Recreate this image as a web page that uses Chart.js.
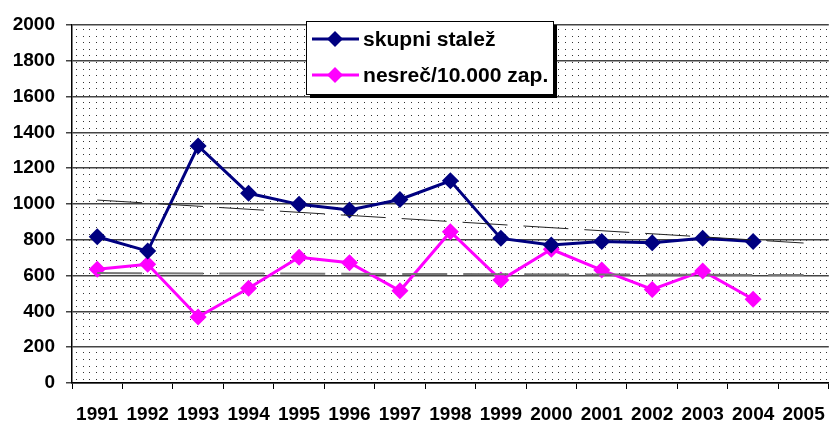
<!DOCTYPE html>
<html>
<head>
<meta charset="utf-8">
<script src="https://cdn.jsdelivr.net/npm/chart.js@4"></script>
<style>
  html, body { margin: 0; padding: 0; background: #fff; }
  #wrap { width: 839px; height: 421px; }
</style>
</head>
<body>
<div id="wrap"><canvas id="chart"></canvas></div>
<script>
// === Data ===
const years = ["1991", "1992", "1993", "1994", "1995", "1996", "1997", "1998",
               "1999", "2000", "2001", "2002", "2003", "2004", "2005"];
const skupniStalez = [817, 737, 1324, 1060, 998, 967, 1025, 1130, 808, 771, 790, 784, 808, 790, null];
const nesrecNa10000 = [635, 663, 369, 529, 702, 672, 515, 845, 575, 747, 631, 523, 626, 468, null];
// trend lines, read at the first and last category
const stalezTrend = [1022, null, null, null, null, null, null, null, null, null, null, null, null, null, 782];
const nesrecTrend = [614, null, null, null, null, null, null, null, null, null, null, null, null, null, 603];

// === Styling ===
const chartProps = {
    navy: "#000080",
    magenta: "#ff00ff",
    gridColor: "#444",
    axisColor: "#000",
    dotColor: "#333",
    font: "'Liberation Sans', Arial, sans-serif",
    axisFontSize: 19,
    legendFontSize: 20
};

// dotted fill of the plot area
const dottedBackground = {
    id: "dottedBackground",
    beforeDraw(chart) {
        const { ctx, chartArea: a } = chart;
        ctx.save();
        ctx.fillStyle = "#fff";
        ctx.fillRect(a.left, a.top, a.right - a.left, a.bottom - a.top);
        ctx.fillStyle = chartProps.dotColor;
        for (let y = a.top + 4; y < a.bottom; y += 6.6) {
            for (let x = a.left + 4; x < a.right; x += 6.7) {
                ctx.fillRect(Math.round(x), Math.round(y), 1, 1);
            }
        }
        ctx.restore();
    }
};

// legend box with shadow, drawn on top of the plot
const boxLegend = {
    id: "boxLegend",
    afterDraw(chart) {
        const ctx = chart.ctx;
        const x = 306, y = 21, w = 247, h = 73;
        ctx.save();
        ctx.fillStyle = "#000";
        ctx.fillRect(x + 4, y + 4, w, h);
        ctx.fillStyle = "#fff";
        ctx.fillRect(x, y, w, h);
        ctx.strokeStyle = "#000";
        ctx.lineWidth = 1;
        ctx.strokeRect(x + 0.5, y + 0.5, w, h);

        const rows = [
            { text: "skupni stalež", color: chartProps.navy, cy: 39 },
            { text: "nesreč/10.000 zap.", color: chartProps.magenta, cy: 75 }
        ];
        rows.forEach(r => {
            ctx.strokeStyle = r.color;
            ctx.lineWidth = 3;
            ctx.beginPath();
            ctx.moveTo(312, r.cy);
            ctx.lineTo(359, r.cy);
            ctx.stroke();
            ctx.fillStyle = r.color;
            ctx.beginPath();
            ctx.moveTo(335, r.cy - 8);
            ctx.lineTo(343, r.cy);
            ctx.lineTo(335, r.cy + 8);
            ctx.lineTo(327, r.cy);
            ctx.closePath();
            ctx.fill();
            // text in the reference is a bit wider than plain Arial
            ctx.save();
            ctx.translate(363, r.cy + 1);
            ctx.scale(1.055, 1);
            ctx.fillStyle = "#000";
            ctx.font = `bold ${chartProps.legendFontSize}px ${chartProps.font}`;
            ctx.textBaseline = "middle";
            ctx.fillText(r.text, 0, 0);
            ctx.restore();
        });
        ctx.restore();
    }
};

function lineSeries(label, data, color) {
    return {
        label,
        data,
        borderColor: color,
        backgroundColor: color,
        borderWidth: 3,
        pointStyle: "rectRot",
        pointRadius: 8.5,
        pointHoverRadius: 8.5,
        pointBorderWidth: 0,
        tension: 0,
        spanGaps: false
    };
}

function trendSeries(data, color, width) {
    return {
        label: "trend",
        data,
        borderColor: color,
        borderWidth: width,
        borderDash: [45, 16],
        pointRadius: 0,
        spanGaps: true,
        tension: 0
    };
}

const axisFont = { family: chartProps.font, size: chartProps.axisFontSize, weight: "bold" };

new Chart(document.getElementById("chart"), {
    type: "line",
    data: {
        labels: years,
        datasets: [
            trendSeries(stalezTrend, "#222", 1),
            trendSeries(nesrecTrend, "#777", 2),
            lineSeries("skupni stalež", skupniStalez, chartProps.navy),
            lineSeries("nesreč/10.000 zap.", nesrecNa10000, chartProps.magenta)
        ]
    },
    options: {
        responsive: true,
        maintainAspectRatio: false,
        animation: false,
        layout: { padding: { top: 25, right: 0, left: 0, bottom: 0 } },
        plugins: {
            legend: { display: false },
            tooltip: { enabled: false }
        },
        scales: {
            x: {
                offset: true,
                grid: {
                    offset: true,
                    drawOnChartArea: false,
                    drawTicks: true,
                    tickLength: 6,
                    color: chartProps.axisColor
                },
                border: { color: chartProps.axisColor, width: 1.5 },
                ticks: {
                    color: "#000",
                    padding: 14,
                    maxRotation: 0,
                    autoSkip: false,
                    font: axisFont
                },
                afterFit: scale => { scale.height = 38; }
            },
            y: {
                min: 0,
                max: 2000,
                ticks: {
                    stepSize: 200,
                    color: "#000",
                    padding: 11,
                    font: axisFont,
                    callback: v => String(v)
                },
                grid: {
                    color: chartProps.gridColor,
                    lineWidth: 1.5,
                    drawTicks: true,
                    tickLength: 6
                },
                border: { color: chartProps.axisColor, width: 1.5 },
                afterFit: scale => { scale.width = 72; }
            }
        }
    },
    plugins: [dottedBackground, boxLegend]
});
</script>
</body>
</html>
